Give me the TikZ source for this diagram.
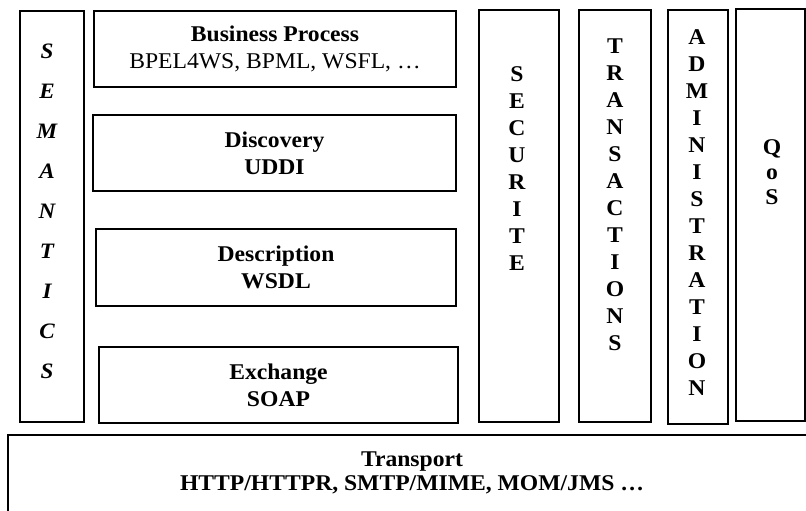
\documentclass[tikz,border=0pt]{standalone}
\usepackage{fontspec}
\setmainfont{Liberation Serif}
\newfontfamily\widefont[FakeStretch=1.05]{Liberation Serif}
\begin{document}
\begin{tikzpicture}[x=1pt,y=-1pt,
  box/.style={draw, line width=1.5pt, inner sep=0pt},
  txt/.style={font=\widefont\bfseries\fontsize{22.5}{27}\selectfont, align=center, inner sep=0pt},
  col/.style={font=\widefont\bfseries\fontsize{22.5}{27}\selectfont, align=center, inner sep=0pt},
  semcol/.style={font=\widefont\bfseries\itshape\fontsize{22}{40}\selectfont, align=center, inner sep=0pt}]
\useasboundingbox (0,0) rectangle (806,511);
\clip (0,0) rectangle (806,511);

% stacked service layers
\node[box, minimum width=362pt, minimum height=76pt, txt] (bp) at (275,49)
  {Business Process\\\mdseries BPEL4WS, BPML, WSFL, \dots};
\node[box, minimum width=363pt, minimum height=76pt, txt] (disc) at (274.5,153)
  {Discovery\\UDDI};
\node[box, minimum width=360pt, minimum height=77pt, txt] (desc) at (276,267.5)
  {Description\\WSDL};
\node[box, minimum width=359pt, minimum height=76pt, txt] (exch) at (278.5,385)
  {Exchange\\SOAP};

% vertical cross-cutting columns
\node[box, minimum width=64pt, minimum height=411pt] (sem) at (52,216.5) {};
\node[semcol] (semtxt) at (47,211) {S\\E\\M\\A\\N\\T\\I\\C\\S};

\node[box, minimum width=80pt, minimum height=412pt] (sec) at (519,216) {};
\node[col] (sectxt) at (517,168.5) {S\\E\\C\\U\\R\\I\\T\\E};

\node[box, minimum width=72pt, minimum height=412pt] (trans) at (615,216) {};
\node[col] (transtxt) at (615,195) {T\\R\\A\\N\\S\\A\\C\\T\\I\\O\\N\\S};

\node[box, minimum width=60pt, minimum height=414pt] (adm) at (698,217) {};
\node[col] (admtxt) at (697,212.5) {A\\D\\M\\I\\N\\I\\S\\T\\R\\A\\T\\I\\O\\N};

\node[box, minimum width=69pt, minimum height=412pt] (qos) at (770.5,215) {};
\node[col, font=\widefont\bfseries\fontsize{22.5}{25}\selectfont] (qostxt) at (772,172) {Q\\o\\S};

% transport layer underneath everything
\node[box, minimum width=808pt, minimum height=95pt] (transport) at (412,482.5) {};
\node[txt, font=\widefont\bfseries\fontsize{22.5}{24}\selectfont] (transtext) at (412,473) {Transport\\HTTP/HTTPR, SMTP/MIME, MOM/JMS \dots};
\end{tikzpicture}
\end{document}
